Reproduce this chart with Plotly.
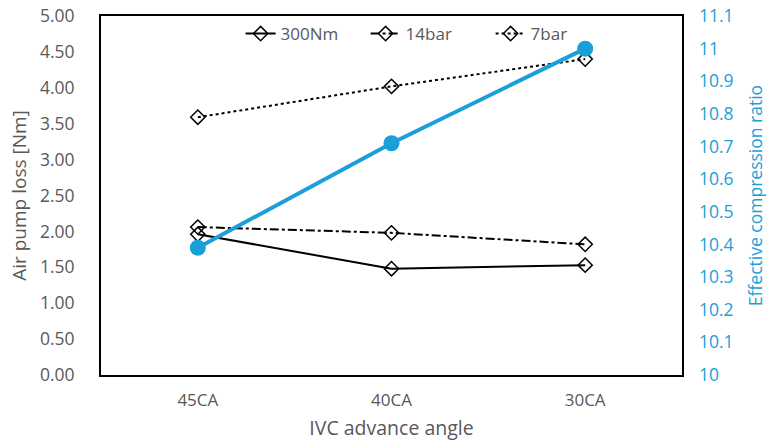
import plotly.graph_objects as go

categories = ["45CA", "40CA", "30CA"]
loss_300nm = [1.96, 1.48, 1.53]
loss_14bar = [2.06, 1.98, 1.82]
loss_7bar = [3.59, 4.02, 4.40]
ecr = [10.39, 10.71, 11.0]

grey = "#595959"
blue = "#1A9FD9"
font_family = "Open Sans, Noto Sans, sans-serif"

fig = go.Figure()
marker_style = dict(symbol="diamond-open", size=11, color="black", line=dict(width=1.5, color="black"))
fig.add_trace(go.Scatter(x=categories, y=loss_300nm, name="300Nm", mode="lines+markers",
                         line=dict(color="black", width=2, dash="solid"), marker=marker_style))
fig.add_trace(go.Scatter(x=categories, y=loss_14bar, name="14bar", mode="lines+markers",
                         line=dict(color="black", width=2, dash="dashdot"), marker=marker_style))
fig.add_trace(go.Scatter(x=categories, y=loss_7bar, name="7bar", mode="lines+markers",
                         line=dict(color="black", width=2, dash="dot"), marker=marker_style))
fig.add_trace(go.Scatter(x=categories, y=ecr, name="ECR", mode="lines+markers", yaxis="y2",
                         showlegend=False,
                         line=dict(color=blue, width=4), marker=dict(symbol="circle", size=16, color=blue)))

fig.update_layout(
    width=767, height=441,
    margin=dict(l=101, r=85, t=16, b=66, autoexpand=False),
    plot_bgcolor="white", paper_bgcolor="white",
    font=dict(family=font_family, color=grey, size=17),
    xaxis=dict(type="category", range=[-0.5, 2.5], showgrid=False, showline=True, linecolor="black",
               linewidth=2, mirror=True, ticks="", tickfont=dict(size=17, color=grey),
               ticklabelstandoff=9, automargin=False,
               title=dict(text="IVC advance angle", font=dict(size=19.5, color=grey), standoff=12)),
    yaxis=dict(range=[0, 5], dtick=0.5, tickformat=".2f", showgrid=False, showline=True,
               linecolor="black", linewidth=2, mirror=True, ticks="", zeroline=False,
               tickfont=dict(size=17.5, color=grey), ticklabelstandoff=21, automargin=False,
               title=dict(text="Air pump loss [Nm]", font=dict(size=19, color=grey), standoff=8)),
    yaxis2=dict(range=[10, 11.1], dtick=0.1, overlaying="y", side="right", showgrid=False,
                showline=False, ticks="", zeroline=False, tickfont=dict(size=17.5, color=blue),
                ticklabelstandoff=16, automargin=False,
                title=dict(text="Effective compression ratio", font=dict(size=17.5, color=blue), standoff=24)),
    legend=dict(orientation="h", x=0.563, xanchor="center", y=1.0, yanchor="top",
                bgcolor="rgba(255,255,255,0)", font=dict(size=17, color=grey),
                entrywidth=80, entrywidthmode="pixels"),
)

fig.write_html("out.html")
